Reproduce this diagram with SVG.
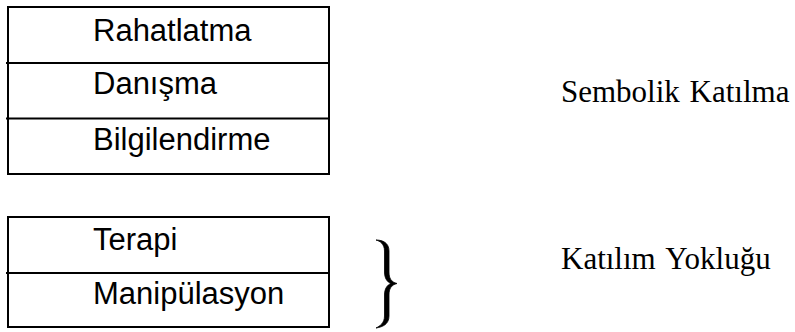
<svg xmlns="http://www.w3.org/2000/svg" width="795" height="332" viewBox="0 0 795 332">
<style>
.box{fill:none;stroke:#000;stroke-width:2}
.div{stroke:#000;stroke-width:2}
.lbl{font-family:"Liberation Sans",Arial,sans-serif;font-size:31px;fill:#000}
.cat{font-family:"Liberation Serif","Times New Roman",serif;font-size:31px;fill:#000}
.brace{fill:#000;stroke:#000;stroke-width:0.8;stroke-linejoin:round}
</style>
<rect width="795" height="332" fill="#fff"/>
<g id="upper-ladder">
  <rect class="box" x="8" y="7" width="321" height="167"/>
  <line class="div" x1="6" y1="63" x2="329" y2="63"/>
  <line class="div" x1="6" y1="118.5" x2="329" y2="118.5"/>
  <g id="rahatlatma"><text class="lbl" x="93" y="41">Rahatlatma</text></g>
  <g id="danisma"><text class="lbl" x="93" y="94">Danışma</text></g>
  <g id="bilgilendirme"><text class="lbl" x="93" y="150">Bilgilendirme</text></g>
</g>
<g id="lower-ladder">
  <rect class="box" x="8" y="217" width="321" height="110"/>
  <line class="div" x1="6" y1="273" x2="329" y2="273"/>
  <g id="terapi"><text class="lbl" x="93" y="250">Terapi</text></g>
  <g id="manipulasyon"><text class="lbl" x="93" y="304">Manipülasyon</text></g>
</g>
<g id="connectors">
  <path class="brace" d="M376,240 C383,240 389,243 389,251 L389,272 C389,278 391,282 397,283.5 C391,285 389,289 389,295 L389,316 C389,324 383,327 376,328 C380,326 384.5,323 384.5,316 L384.5,295 C384.5,289 387,285 391,283.5 C387,282 384.5,278 384.5,272 L384.5,251 C384.5,244 380,241 376,240 Z"/>
</g>
<g id="sembolik-katilma"><text class="cat" x="561" y="102" word-spacing="2">Sembolik Katılma</text></g>
<g id="katilim-yoklugu"><text class="cat" x="561" y="269" word-spacing="3">Katılım Yokluğu</text></g>
</svg>
